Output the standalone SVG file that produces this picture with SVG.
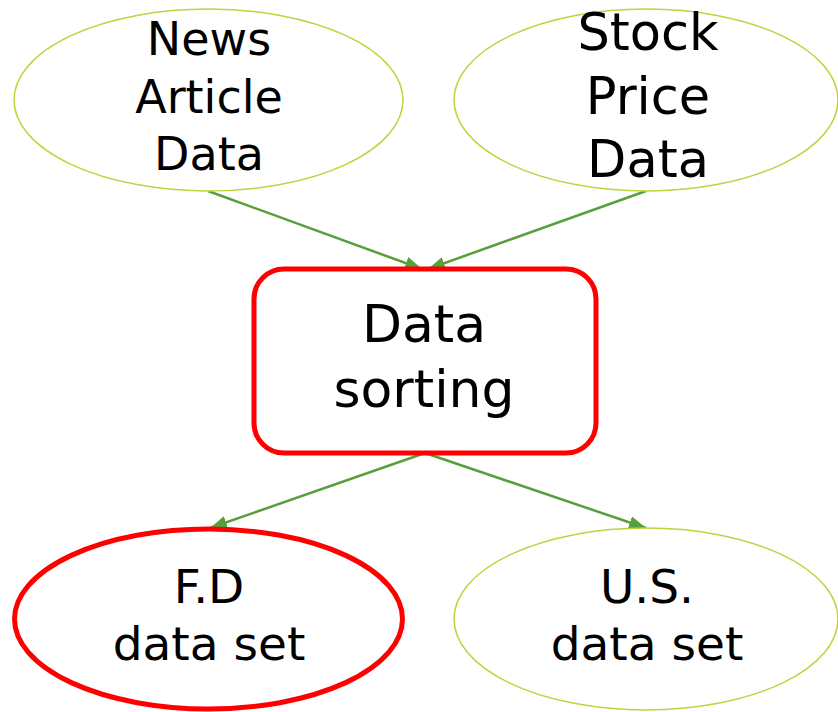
<svg xmlns="http://www.w3.org/2000/svg" width="838" height="712" viewBox="0 0 838 712">
<style>
.lt{fill:#fff;stroke:#c4d03e;stroke-width:1.5}
.hl{fill:#fff;stroke:#ff0000;stroke-width:5}
.c{stroke:#56a03a;stroke-width:2.5;fill:none;marker-end:url(#ah)}
text{font-family:"DejaVu Sans",Verdana,sans-serif;fill:#000;text-anchor:middle}
</style>
<defs>
<marker id="ah" viewBox="0 0 10 10" refX="10" refY="5" markerWidth="17" markerHeight="13" markerUnits="userSpaceOnUse" orient="auto" preserveAspectRatio="none">
<path d="M0,0 L10,5 L0,10 z" fill="#56a03a"/>
</marker>
</defs>
<rect width="838" height="712" fill="#fff"/>
<g id="connectors">
<line class="c" x1="208" y1="191" x2="422" y2="269"/>
<line class="c" x1="646" y1="191" x2="428" y2="269"/>
<line class="c" x1="425" y1="453" x2="210" y2="528"/>
<line class="c" x1="425" y1="453" x2="646" y2="528"/>
</g>
<g id="news">
<ellipse class="lt" cx="208.5" cy="100" rx="194.5" ry="91"/>
<text font-size="46"><tspan x="209" y="55">News</tspan><tspan x="209" y="113">Article</tspan><tspan x="209" y="170">Data</tspan></text>
</g>
<g id="stock">
<ellipse class="lt" cx="646" cy="100" rx="192" ry="91"/>
<text font-size="51"><tspan x="648" y="50">Stock</tspan><tspan x="648" y="114">Price</tspan><tspan x="648" y="177">Data</tspan></text>
</g>
<g id="sorting">
<rect class="hl" x="254" y="269" width="342" height="184" rx="30"/>
<text font-size="52"><tspan x="424" y="342">Data</tspan><tspan x="424" y="407">sorting</tspan></text>
</g>
<g id="fd">
<ellipse class="hl" cx="208.5" cy="619" rx="194" ry="90"/>
<text font-size="47"><tspan x="209" y="603">F.D</tspan><tspan x="209" y="660">data set</tspan></text>
</g>
<g id="us">
<ellipse class="lt" cx="646" cy="619" rx="192" ry="91"/>
<text font-size="47"><tspan x="647" y="603">U.S.</tspan><tspan x="647" y="660">data set</tspan></text>
</g>
</svg>
